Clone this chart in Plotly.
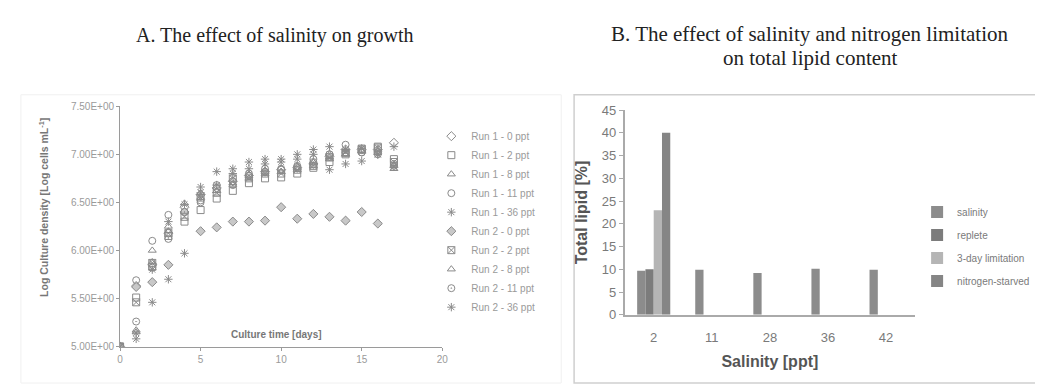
import plotly.graph_objects as go

# ---------------- Data: panel A (growth) ----------------
days = list(range(0, 18))
days_r2_0 = list(range(0, 17))

run1_0ppt = [5.00, 5.63, 5.85, 6.18, 6.45, 6.58, 6.65, 6.72, 6.78, 6.82, 6.84, 6.86, 6.90, 6.98, 7.05, 7.05, 7.05, 7.12]
run1_2ppt = [5.00, 5.51, 5.83, 6.15, 6.30, 6.42, 6.54, 6.62, 6.70, 6.75, 6.76, 6.80, 6.86, 6.92, 7.00, 7.05, 7.08, 6.95]
run1_8ppt = [5.00, 5.17, 6.00, 6.25, 6.40, 6.55, 6.62, 6.68, 6.75, 6.80, 6.82, 6.84, 6.88, 6.95, 7.00, 7.03, 7.05, 6.85]
run1_11ppt = [5.00, 5.69, 6.10, 6.37, 6.40, 6.50, 6.68, 6.72, 6.80, 6.85, 6.85, 6.88, 6.95, 7.00, 7.10, 7.02, 7.02, 6.88]
run1_36ppt = [5.00, 5.14, 5.80, 6.30, 6.48, 6.66, 6.68, 6.85, 6.92, 6.95, 6.95, 7.00, 7.05, 7.08, 7.05, 7.06, 7.00, 7.08]
run2_0ppt = [5.00, 5.62, 5.67, 5.85, 6.40, 6.20, 6.24, 6.30, 6.30, 6.31, 6.45, 6.33, 6.38, 6.35, 6.31, 6.40, 6.28]
run2_2ppt = [5.00, 5.46, 5.87, 6.18, 6.35, 6.55, 6.60, 6.75, 6.75, 6.80, 6.80, 6.84, 6.88, 6.97, 7.02, 7.06, 7.07, 6.92]
run2_8ppt = [5.00, 5.15, 5.88, 6.20, 6.49, 6.60, 6.62, 6.70, 6.78, 6.82, 6.82, 6.86, 6.92, 6.97, 7.00, 7.04, 7.03, 6.88]
run2_11ppt = [5.00, 5.26, 5.82, 6.12, 6.40, 6.52, 6.65, 6.68, 6.78, 6.82, 6.84, 6.87, 6.92, 7.00, 7.02, 7.02, 7.00, 6.90]
run2_36ppt = [5.00, 5.08, 5.46, 5.70, 5.97, 6.60, 6.82, 6.80, 6.85, 6.90, 6.92, 6.95, 7.00, 6.84, 6.90, 6.93, 7.00, 6.87]

growth_names = ["Run 1 - 0 ppt", "Run 1 - 2 ppt", "Run 1 - 8 ppt", "Run 1 - 11 ppt", "Run 1 - 36 ppt",
                "Run 2 - 0 ppt", "Run 2 - 2 ppt", "Run 2 - 8 ppt", "Run 2 - 11 ppt", "Run 2 - 36 ppt"]
growth_values = [run1_0ppt, run1_2ppt, run1_8ppt, run1_11ppt, run1_36ppt,
                 run2_0ppt, run2_2ppt, run2_8ppt, run2_11ppt, run2_36ppt]
growth_x = [days, days, days, days, days, days_r2_0, days, days, days, days]
growth_symbols = ["diamond-open", "square-open", "triangle-up-open", "circle-open", "asterisk-open",
                  "diamond", "square-x-open", "triangle-up-open", "circle-open-dot", "asterisk-open"]

y_ticks_a = [5.0, 5.5, 6.0, 6.5, 7.0, 7.5]
y_ticklabels_a = ["5.00E+00", "5.50E+00", "6.00E+00", "6.50E+00", "7.00E+00", "7.50E+00"]

# ---------------- Data: panel B (lipid) ----------------
salinity_cats = ["2", "11", "28", "36", "42"]
lipid_salinity = [9.7, 9.9, 9.2, 10.1, 9.9]
lipid_replete = [10.0, None, None, None, None]
lipid_3day = [23.0, None, None, None, None]
lipid_nstarved = [40.0, None, None, None, None]

bar_names = ["salinity", "replete", "3-day limitation", "nitrogen-starved"]
bar_values = [lipid_salinity, lipid_replete, lipid_3day, lipid_nstarved]
bar_colors = ["#8c8c8c", "#7c7c7c", "#b5b5b5", "#858585"]

W, H = 1043, 384
def px(x):
    return x / W
def py(y):
    return 1 - y / H

fig = go.Figure()
gray = "#8a8a8a"

for nm, xs, ys, sym in zip(growth_names, growth_x, growth_values, growth_symbols):
    mk = dict(symbol=sym, size=7, color=gray, line=dict(color=gray, width=1))
    if nm == "Run 2 - 0 ppt":
        mk = dict(symbol="diamond", size=7, color="#c8c8c8", line=dict(color="#8a8a8a", width=1))
    fig.add_trace(go.Scatter(x=xs, y=ys, mode="markers", name=nm, marker=mk,
                             xaxis="x", yaxis="y", legend="legend"))

for nm, vals, col in zip(bar_names, bar_values, bar_colors):
    fig.add_trace(go.Bar(x=salinity_cats, y=vals, name=nm, legendgroup=nm,
                         marker=dict(color=col, line=dict(width=0)),
                         xaxis="x2", yaxis="y2", legend="legend2"))

tickfont_a = dict(family="Liberation Sans, Arial", size=10, color="#9a9a9a")
tickfont_b = dict(family="Liberation Sans, Arial", size=13, color="#7a7a7a")

fig.update_layout(
    width=W, height=H,
    margin=dict(l=0, r=0, t=0, b=0),
    paper_bgcolor="white", plot_bgcolor="white",
    barmode="group", bargap=0.43, bargroupgap=0,
    xaxis=dict(domain=[px(110), px(435)], range=[0, 20], tickvals=[0, 5, 10, 15, 20],
               showgrid=False, zeroline=False, showline=True, linecolor="#9a9a9a", linewidth=1,
               ticks="outside", ticklen=3, tickcolor="#9a9a9a", tickfont=tickfont_a,
               anchor="y"),
    yaxis=dict(domain=[py(345), py(95)], range=[5.0, 7.5], tickvals=y_ticks_a, ticktext=y_ticklabels_a,
               showgrid=False, zeroline=False, showline=True, linecolor="#9a9a9a", linewidth=1,
               ticks="outside", ticklen=3, tickcolor="#9a9a9a", tickfont=tickfont_a,
               anchor="x"),
    xaxis2=dict(domain=[px(619), px(912)], type="category", categoryorder="array", categoryarray=salinity_cats,
                showgrid=False, zeroline=False, showline=True, linecolor="#aaaaaa", linewidth=1.5,
                ticks="", tickfont=tickfont_b, anchor="y2", ticklabelstandoff=10,
                title=dict(text="<b>Salinity [ppt]</b>", font=dict(family="Liberation Sans, Arial", size=16, color="#555555"), standoff=12)),
    yaxis2=dict(domain=[py(312), py(99)], range=[0, 45], dtick=5,
                showgrid=False, zeroline=False, showline=True, linecolor="#aaaaaa", linewidth=1.5,
                ticks="outside", ticklen=4, tickcolor="#aaaaaa", tickfont=tickfont_b, anchor="x2",
                title=dict(text="<b>Total lipid [%]</b>", font=dict(family="Liberation Sans, Arial", size=16, color="#555555"), standoff=10)),
    legend=dict(x=px(424), y=py(111), xanchor="left", yanchor="top",
                font=dict(family="Liberation Sans, Arial", size=10, color="#9a9a9a"),
                itemwidth=30, tracegroupgap=0, bgcolor="rgba(0,0,0,0)"),
    legend2=dict(x=px(914), y=py(190), xanchor="left", yanchor="top",
                 font=dict(family="Liberation Sans, Arial", size=10, color="#7a7a7a"),
                 itemwidth=30, tracegroupgap=4, bgcolor="rgba(0,0,0,0)"),
    showlegend=True,
)

# Panel frames
fig.add_shape(type="rect", xref="paper", yref="paper", x0=px(10), x1=px(555), y0=py(383), y1=py(83),
              line=dict(color="#f0f0f0", width=1), fillcolor="rgba(0,0,0,0)", layer="below")
fig.add_shape(type="rect", xref="paper", yref="paper", x0=px(568), x1=px(1042), y0=py(383), y1=py(83),
              line=dict(color="#cfcfcf", width=1.5), fillcolor="rgba(0,0,0,0)", layer="below")

# Titles & axis titles
title_font_a = dict(family="Liberation Serif, Times New Roman", size=20, color="#222222")
title_font_b = dict(family="Liberation Serif, Times New Roman", size=21, color="#222222")
fig.add_annotation(text="A. The effect of salinity on growth", xref="paper", yref="paper",
                   x=px(266), y=py(21), showarrow=False, xanchor="center", yanchor="middle",
                   font=title_font_a)
fig.add_annotation(text="B. The effect of salinity and nitrogen limitation",
                   xref="paper", yref="paper", x=px(805), y=py(20), showarrow=False,
                   xanchor="center", yanchor="middle", font=title_font_b)
fig.add_annotation(text="on total lipid content",
                   xref="paper", yref="paper", x=px(806), y=py(45), showarrow=False,
                   xanchor="center", yanchor="middle", font=title_font_b)
fig.add_annotation(text="<b>Culture time [days]</b>", xref="paper", yref="paper",
                   x=px(268), y=py(333), showarrow=False, xanchor="center", yanchor="middle",
                   font=dict(family="Liberation Sans, Arial", size=10, color="#777777"))
fig.add_annotation(text="<b>Log Culture density [Log cells mL<sup>-1</sup>]</b>", xref="paper", yref="paper",
                   x=px(32), y=py(200), showarrow=False, xanchor="center", yanchor="middle", textangle=-90,
                   font=dict(family="Liberation Sans, Arial", size=10.5, color="#777777"))

fig.write_html("out.html")
